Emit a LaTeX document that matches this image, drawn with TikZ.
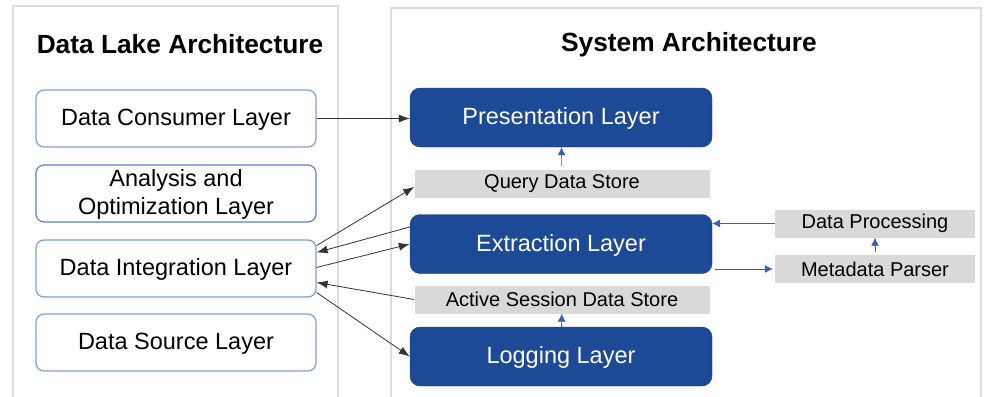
\documentclass[tikz,border=0pt]{standalone}
\usepackage{fontspec}
\setmainfont{Liberation Sans}
\usetikzlibrary{arrows.meta}

\definecolor{layerblue}{RGB}{29,74,150}
\definecolor{layeredge}{RGB}{22,58,125}
\definecolor{lakeedge}{RGB}{125,158,215}
\definecolor{storegray}{RGB}{217,217,217}
\definecolor{panelgray}{RGB}{220,220,220}
\definecolor{flowblue}{RGB}{55,95,180}

\begin{document}
\begin{tikzpicture}[x=1pt, y=-1pt,
    every node/.style={font=\fontsize{23.5}{28}\selectfont},
    paneltitle/.style={font=\fontsize{26.3}{30}\selectfont\bfseries},
    lake/.style={draw=lakeedge, line width=1.2pt, rounded corners=8pt, fill=white,
      minimum width=280pt, minimum height=57pt, align=center, text depth=2.5pt},
    syslayer/.style={draw=layeredge, fill=layerblue, text=white, rounded corners=10pt,
      minimum width=302pt, minimum height=59pt, text depth=2.5pt},
    store/.style={fill=storegray, font=\fontsize{20}{24}\selectfont,
      minimum width=295pt, minimum height=28pt, inner sep=0pt},
    link/.style={-{Latex[length=11pt,width=8pt]}, line width=0.8pt, draw=black!80},
    flow/.style={-{Latex[length=8pt,width=8pt]}, line width=0.7pt, draw=flowblue}]
  \useasboundingbox (0,0) rectangle (984,396);

  % the two panels
  \draw[panelgray, line width=1.5pt] (13,400) |- (338,6) -- (338,400);
  \draw[panelgray, line width=1.5pt] (391,400) |- (981,8) -- (981,400);
  \node[paneltitle] (laketitle) at (180,44) {Data Lake Architecture};
  \node[paneltitle] (systitle) at (689,45) {System Architecture};

  % data lake side
  \node[lake] (consumer) at (176,118.5) {Data Consumer Layer};
  \node[lake, draw=lakeedge!65!layerblue] (analysis) at (176,193.5) {Analysis and\\Optimization Layer};
  \node[lake] (integration) at (176,268.5) {Data Integration Layer};
  \node[lake] (source) at (176,342.5) {Data Source Layer};

  % system side
  \node[syslayer] (present) at (561,117.5) {Presentation Layer};
  \node[store] (query) at (562,184) {Query Data Store};
  \node[syslayer] (extract) at (561,244) {Extraction Layer};
  \node[store] (active) at (562,299.5) {Active Session Data Store};
  \node[syslayer] (logging) at (561,356.5) {Logging Layer};
  \node[store, minimum width=200pt] (dataproc) at (875,223.5) {Data Processing};
  \node[store, minimum width=200pt] (metaparse) at (875,269) {Metadata Parser};

  % between the panels
  \draw[link] (consumer.east) -- (consumer.east -| present.west);
  \draw[link] ([yshift=23pt]integration.east) -- ([yshift=-3pt]query.west);
  \draw[link] ([yshift=17pt]extract.west) -- ([yshift=16pt]integration.east);
  \draw[link] ([yshift=1pt]integration.east) -- (extract.west);
  \draw[link] (active.west) -- ([yshift=-14pt]integration.east);
  \draw[link] ([yshift=-24pt]integration.east) -- (logging.west);

  % inside the system
  \draw[flow, shorten <=4pt] (query) -- (present);
  \draw[flow] (logging) -- (active);
  \draw[flow] (dataproc.west) -- (dataproc.west -| extract.east);
  \draw[flow, shorten <=3pt, shorten >=2pt] (extract.east |- metaparse.west) -- (metaparse.west);
  \draw[flow, shorten <=3pt] (metaparse) -- (dataproc);
\end{tikzpicture}
\end{document}
